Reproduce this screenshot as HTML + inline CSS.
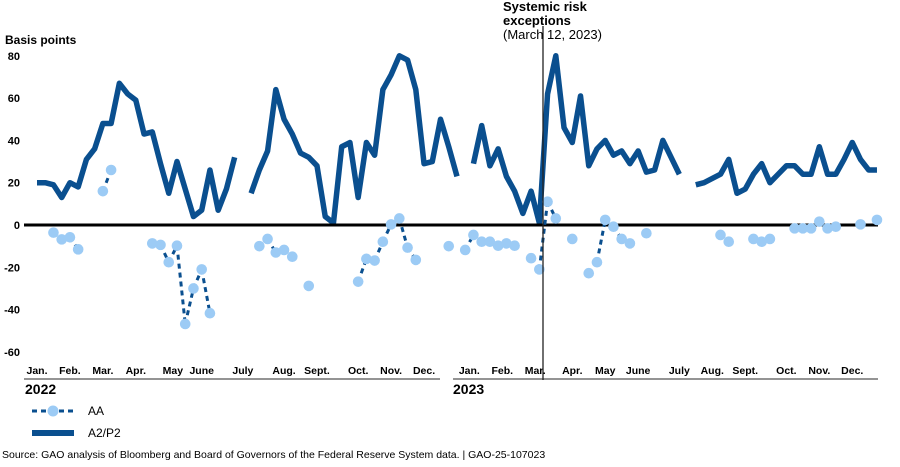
<!DOCTYPE html>
<html><head><meta charset="utf-8"><style>
body{margin:0;background:#fff;font-family:"Liberation Sans",Arial,sans-serif;}
svg text{font-family:"Liberation Sans",Arial,sans-serif;}
</style></head><body>
<svg id="chart" width="900" height="462" viewBox="0 0 900 462" xmlns="http://www.w3.org/2000/svg">
<text x="5" y="44" font-size="12" font-weight="bold">Basis points</text>
<g id="yticks"></g>
<g id="months"></g>
<line x1="24" y1="379" x2="440" y2="379" stroke="#555" stroke-width="1.2"/>
<line x1="453" y1="379" x2="878" y2="379" stroke="#555" stroke-width="1.2"/>
<text x="25" y="394" font-size="14" font-weight="bold">2022</text>
<text x="453" y="394" font-size="14" font-weight="bold">2023</text>
<g id="series"></g>
<line x1="543" y1="26" x2="543" y2="380" stroke="#222" stroke-width="1.3"/>
<text x="503" y="11" font-size="13" font-weight="bold">Systemic risk</text>
<text x="503" y="25" font-size="13" font-weight="bold">exceptions</text>
<text x="503" y="39" font-size="13">(March 12, 2023)</text>
<g>
<line x1="32" y1="411" x2="74" y2="411" stroke="#0a4f8f" stroke-width="3" stroke-dasharray="5,4"/>
<circle cx="53" cy="411" r="5.5" fill="#9ccbf5"/>
<text x="88" y="415" font-size="12">AA</text>
<rect x="32" y="430" width="42" height="6" fill="#0a4f8f"/>
<text x="88" y="437" font-size="12">A2/P2</text>
</g>
<text x="2" y="458" font-size="10.5">Source: GAO analysis of Bloomberg and Board of Governors of the Federal Reserve System data.  |  GAO-25-107023</text>
</svg>
<script>
const yTicks=[80,60,40,20,0,-20,-40,-60];
const monthLabels=["Jan.","Feb.","Mar.","Apr.","May","June","July","Aug.","Sept.","Oct.","Nov.","Dec.","Jan.","Feb.","Mar.","Apr.","May","June","July","Aug.","Sept.","Oct.","Nov.","Dec."];
const monthWeek=[0,4,8,12,16.5,20,25,30,34,39,43,47,52.5,56.5,60.5,65,69,73,78,82,86,91,95,99];
const a2p2=[20,20,19,13,20,18,31,36,48,48,67,62,59,43,44,29,15,30,17,4,7,26,7,17,32,null,15,26,35,64,50,43,34,32,28,4,1,37,39,13,39,33,64,71,80,78,64,29,30,50,37,23,null,29,47,28,36,23,16,5.5,16,1,62,80,46,39,61,28,36,40,33,35,29,35,25,26,40,32,24,null,19,20,22,24,31,15,17,24,29,20,24,28,28,24,24,37,24,24,31,39,31,26,26];
const aa=[null,null,-3.6,-6.8,-5.8,-11.5,null,null,16,26,null,null,null,null,-8.7,-9.4,-17.6,-9.8,-46.8,-30,-21,-41.7,null,null,null,null,null,-10,-6.6,-13,-11.8,-15,null,-28.8,null,null,null,null,null,-26.8,-16,-16.8,-7.9,0.3,3.1,-10.7,-16.5,null,null,null,-10,null,-11.8,-4.7,-7.9,-7.9,-9.8,-8.7,-9.8,null,-15.7,-21,11,3.1,null,-6.6,null,-22.8,-17.6,2.4,-0.8,-6.6,-8.7,null,-3.9,null,null,null,null,null,null,null,null,-4.7,-7.9,null,null,-6.6,-7.9,-6.6,null,null,-1.6,-1.6,-1.6,1.6,-1.6,-0.8,null,null,0.3,null,2.4];
const NS="http://www.w3.org/2000/svg";
function xs(i){return 37+i*8.235;}
function ys(v){return 225-v*2.115;}
function mk(t,a,p){const e=document.createElementNS(NS,t);for(const k in a)e.setAttribute(k,a[k]);p.appendChild(e);return e;}
const yt=document.getElementById('yticks');
yTicks.forEach(v=>{const t=mk('text',{x:20,y:ys(v)+4,'font-size':11,'font-weight':'bold','text-anchor':'end'},yt);t.textContent=v;

});
const mg=document.getElementById('months');
monthLabels.forEach((m,k)=>{const t=mk('text',{x:xs(monthWeek[k]),y:374,'font-size':10.5,'font-weight':'bold','text-anchor':'middle'},mg);t.textContent=m;

});
const sg=document.getElementById('series');
let segs=[],cur=[];
a2p2.forEach((v,i)=>{if(v===null){if(cur.length)segs.push(cur);cur=[];}else cur.push(xs(i)+','+ys(v));});
if(cur.length)segs.push(cur);
segs.forEach(s=>{const p=mk('polyline',{points:s.join(' '),fill:'none',stroke:'#0a4f8f','stroke-width':5.5,'stroke-linejoin':'round'},sg);

});
const zl=mk('line',{x1:24,y1:225,x2:878,y2:225,stroke:'#000','stroke-width':3},sg);


for(let i=1;i<aa.length;i++){if(aa[i]!==null&&aa[i-1]!==null){const l=mk('line',{x1:xs(i-1),y1:ys(aa[i-1]),x2:xs(i),y2:ys(aa[i]),stroke:'#0a4f8f','stroke-width':3,'stroke-dasharray':'5,4'},sg);

}}
aa.forEach((v,i)=>{if(v===null)return;const c=mk('circle',{cx:xs(i),cy:ys(v),r:5.3,fill:'#9ccbf5'},sg);

});
</script>
</body></html>
